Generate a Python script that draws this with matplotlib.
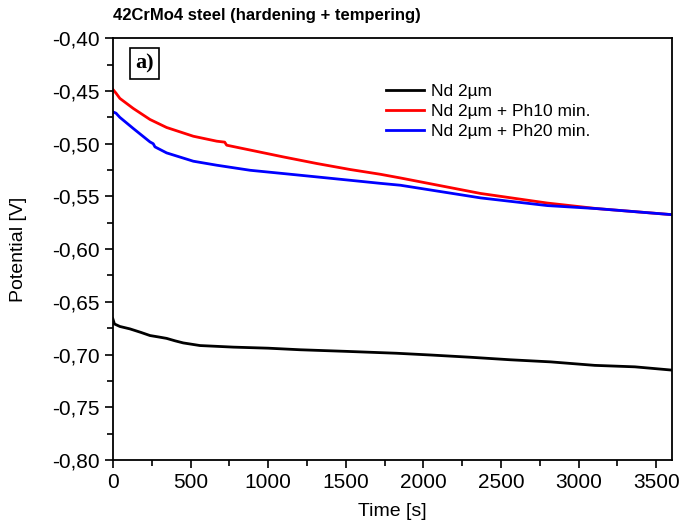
import matplotlib
matplotlib.use("Agg")
import matplotlib.pyplot as plt
from matplotlib.ticker import MultipleLocator, FuncFormatter

plt.rcParams['font.family'] = ['Liberation Sans', 'DejaVu Sans']

# Nd 2um
t_nd = [0, 10, 45, 110, 180, 239, 300, 346, 400, 453, 561, 776, 1000, 1206, 1500, 1826,
        2050, 2303, 2560, 2820, 3103, 3362, 3600]
e_nd = [-0.6662, -0.671, -0.6734, -0.6757, -0.679, -0.682, -0.6835, -0.6847, -0.687, -0.689,
        -0.6915, -0.693, -0.694, -0.6955, -0.697, -0.6988, -0.7005, -0.7026, -0.705, -0.707,
        -0.7103, -0.7117, -0.7148]

# Nd 2um + Ph10 min.
t_ph10 = [0, 20, 45, 131, 239, 346, 518, 669, 720, 733, 884, 1097, 1314, 1529, 1723, 1852,
          2368, 2798, 3120, 3600]
e_ph10 = [-0.4485, -0.452, -0.457, -0.4665, -0.477, -0.4846, -0.4929, -0.4976, -0.4985,
          -0.5014, -0.506, -0.5125, -0.5188, -0.5245, -0.5290, -0.5325, -0.5472, -0.5563,
          -0.5616, -0.5673]

# Nd 2um + Ph20 min.
t_ph20 = [0, 20, 45, 131, 239, 260, 271, 346, 518, 669, 884, 1097, 1314, 1529, 1723, 1852,
          2368, 2798, 3120, 3600]
e_ph20 = [-0.4698, -0.471, -0.475, -0.4855, -0.4983, -0.500, -0.503, -0.5087, -0.5166,
          -0.5204, -0.5252, -0.5283, -0.5315, -0.5347, -0.5376, -0.5394, -0.5514, -0.5587,
          -0.5616, -0.5673]

fig = plt.figure(figsize=(6.8, 5.25), dpi=100)
ax = fig.add_axes([0.166, 0.124, 0.822, 0.803])

ax.plot(t_nd, e_nd, color='black', lw=2, label='Nd 2µm')
ax.plot(t_ph10, e_ph10, color='red', lw=2, label='Nd 2µm + Ph10 min.')
ax.plot(t_ph20, e_ph20, color='blue', lw=2, label='Nd 2µm + Ph20 min.')

ax.set_xlim(0, 3600)
ax.set_ylim(-0.80, -0.40)
ax.xaxis.set_major_locator(MultipleLocator(500))
ax.xaxis.set_minor_locator(MultipleLocator(250))
ax.yaxis.set_major_locator(MultipleLocator(0.05))
ax.yaxis.set_minor_locator(MultipleLocator(0.025))
ax.yaxis.set_major_formatter(FuncFormatter(lambda v, p: f"{v:.2f}".replace('.', ',')))
ax.tick_params(which='major', length=6, width=1.2, labelsize=15, direction='out')
ax.tick_params(which='minor', length=4, width=1.2, direction='out')
for s in ax.spines.values():
    s.set_linewidth(1.3)

ax.set_xlabel('Time [s]', fontsize=14, labelpad=8)
ax.set_ylabel('Potential [V]', fontsize=14, labelpad=18)
ax.set_title('42CrMo4 steel (hardening + tempering)', fontsize=12, fontweight='bold',
             loc='left', pad=13)

ax.text(0.04, 0.94, 'a)', transform=ax.transAxes, fontsize=16, fontweight='bold',
        family='Liberation Serif', va='center', ha='left',
        bbox=dict(boxstyle='square,pad=0.25', fc='white', ec='black', lw=1.2))

ax.legend(loc='upper left', bbox_to_anchor=(0.46, 0.93), frameon=False, fontsize=12.5,
          handlelength=2.2, handletextpad=0.4, labelspacing=0.3)

fig.savefig('out.png', dpi=100)
